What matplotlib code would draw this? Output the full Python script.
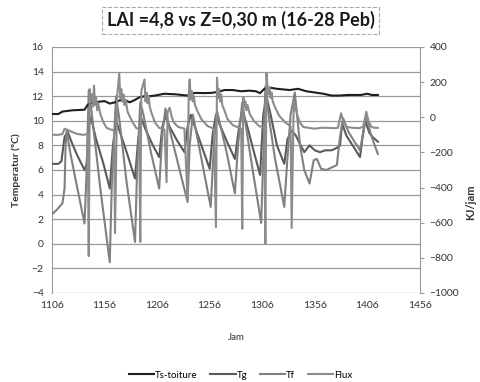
import numpy as np
import matplotlib
matplotlib.use("Agg")
import matplotlib.pyplot as plt

plt.rcParams['font.family'] = ['Lato', 'DejaVu Sans']

# Ts-toiture (left axis)
ts_x = [1106, 1112, 1116, 1125, 1137, 1140, 1143, 1151, 1156, 1161, 1166, 1170, 1175, 1180, 1185, 1189,
        1194, 1199, 1204, 1213, 1224, 1235, 1242, 1250, 1258, 1264, 1270, 1278, 1286, 1294, 1300, 1304,
        1308, 1313, 1320, 1332, 1340, 1348, 1356, 1364, 1372, 1379, 1387, 1394, 1400, 1406, 1410, 1416]
ts_y = [10.55, 10.55, 10.75, 10.85, 10.9, 11.3, 11.45, 11.55, 11.6, 11.4, 11.5, 11.65, 11.7, 11.5, 11.7, 11.9,
        12.0, 12.0, 12.05, 12.2, 12.15, 12.05, 12.27, 12.25, 12.27, 12.35, 12.5, 12.5, 12.4, 12.45, 12.4, 12.25,
        12.6, 12.7, 12.6, 12.5, 12.6, 12.4, 12.3, 12.2, 12.05, 12.05, 12.1, 12.1, 12.1, 12.2, 12.1, 12.1]

# Tg (left axis)
tg_x = [1106, 1112, 1115, 1118, 1121, 1125, 1130, 1137, 1139, 1141, 1143, 1148, 1155, 1161, 1164, 1167,
        1171, 1178, 1185, 1188, 1191, 1195, 1202, 1208, 1211, 1214, 1218, 1225, 1232, 1235, 1238, 1242,
        1249, 1256, 1259, 1262, 1266, 1273, 1280, 1284, 1287, 1291, 1298, 1304, 1307, 1310, 1314, 1320,
        1327, 1330, 1334, 1338, 1342, 1346, 1351, 1356, 1361, 1366, 1372, 1377, 1380, 1382, 1386, 1392,
        1399, 1402, 1404, 1408, 1412, 1416]
tg_y = [6.5, 6.5, 6.7, 8.7, 9.1, 8.2, 7.2, 6.0, 6.5, 9.5, 10.3, 8.5, 6.5, 4.5, 8.0, 10.0,
        9.0, 7.2, 5.3, 8.5, 10.2, 9.3, 8.0, 7.05, 9.5, 10.4, 9.5, 8.4, 7.45, 9.5, 10.5, 9.5,
        7.8, 6.1, 9.0, 10.5, 9.6, 8.2, 6.9, 9.5, 10.8, 9.8, 7.5, 5.6, 10.5, 12.0, 10.5, 8.0,
        6.5, 8.5, 9.2, 8.8, 8.1, 7.45, 8.0, 7.6, 7.45, 7.6, 7.6, 7.8, 8.0, 9.8, 8.8, 8.0,
        7.05, 9.0, 10.0, 9.0, 8.6, 8.3]

# Tf (left axis)
tf_x = [1106, 1111, 1116, 1118, 1119, 1120, 1123, 1129, 1137, 1139, 1141, 1144, 1152, 1161, 1163, 1167,
        1170, 1177, 1185, 1187, 1190, 1193, 1200, 1208, 1211, 1214, 1217, 1226, 1235, 1237, 1240, 1248,
        1257, 1260, 1263, 1272, 1280, 1283, 1287, 1296, 1305, 1307, 1309, 1312, 1318, 1327, 1330, 1333,
        1337, 1342, 1346, 1351, 1355, 1358, 1362, 1367, 1372, 1377, 1380, 1383, 1388, 1393, 1399, 1402,
        1405, 1409, 1413, 1416]
tf_y = [2.4, 2.8, 3.3, 4.5, 8.0, 9.2, 7.6, 5.0, 1.65, 6.0, 12.5, 10.5, 4.5, -1.5, 5.0, 12.0,
        10.2, 5.0, 0.15, 6.0, 11.5, 10.5, 7.5, 4.5, 9.0, 11.0, 9.6, 6.5, 3.4, 8.0, 10.5, 7.0,
        3.0, 8.0, 10.8, 7.5, 4.1, 8.0, 11.5, 6.5, 1.7, 7.0, 12.8, 10.5, 7.0, 3.0, 7.0, 10.5,
        12.3, 8.0, 6.0, 4.9, 6.8, 6.9, 6.1, 6.0, 6.2, 6.4, 8.7, 10.2, 9.1, 8.4, 7.6, 9.0,
        10.5, 9.0, 8.0, 7.3]

# Flux (right axis, KJ/jam)
fl_x = [1106, 1112, 1116, 1118, 1122, 1130, 1136, 1140, 1141, 1142, 1143, 1144, 1145, 1146, 1147, 1148,
        1149, 1150, 1152, 1155, 1158, 1162, 1165, 1166, 1168, 1170, 1171, 1172, 1173, 1174, 1175, 1176,
        1178, 1182, 1186, 1189, 1190, 1191, 1194, 1195, 1196, 1197, 1198, 1199, 1201, 1204, 1208, 1213,
        1215, 1216, 1218, 1220, 1222, 1226, 1232, 1235, 1236, 1237, 1238, 1239, 1240, 1241, 1242, 1244,
        1248, 1254, 1260, 1262, 1263, 1264, 1265, 1266, 1267, 1268, 1270, 1273, 1278, 1284, 1286, 1287,
        1288, 1289, 1290, 1291, 1292, 1294, 1298, 1303, 1308, 1309, 1310, 1311, 1312, 1313, 1314, 1315,
        1316, 1318, 1322, 1328, 1333, 1334, 1336, 1337, 1338, 1339, 1340, 1342, 1345, 1350, 1356, 1362,
        1368, 1374, 1378, 1381, 1383, 1386, 1392, 1398, 1402, 1405, 1407, 1410, 1413, 1416]
fl_y = [-100, -100, -95, -65, -75, -95, -100, -95, -790, 160, 90, 130, 60, 180, 70, 110,
        40, 80, 20, -30, -60, -70, -75, -660, 120, 250, 110, 160, 90, 130, 70, 100,
        30, -20, -60, -70, -710, 150, 215, 90, 140, 80, 120, 60, 20, -30, -60, -70,
        -370, 30, 55, 0, -30, -55, -65, -470, 120, 215, 100, 150, 90, 120, 70, 40,
        -10, -50, -65, -625, 225, 110, 160, 90, 130, 70, 40, -10, -45, -60, -65, -635,
        115, 60, 90, 40, 70, 20, -20, -50, -60, -720, 250, 180, 130, 170, 110, 140,
        90, 60, 10, -30, -50, -630, 95, 40, 60, 20, 0, -30, -55, -60, -65, -60,
        -60, -62, -60, 23, -20, -55, -60, -62, -55, 32, -20, -55, -60, -60]

yl_ticks = np.arange(-4, 17, 2)
yr_ticks = np.arange(-1000, 401, 200)
x_ticks = np.arange(1106, 1457, 50)

fig = plt.figure(figsize=(4.81, 3.82), dpi=100)
ax = fig.add_axes([0.108, 0.233, 0.765, 0.644])
ax2 = ax.twinx()

grid_c = '#9a9a9a'
for v in yl_ticks:
    ax.axhline(v, color=grid_c, lw=0.9, zorder=0)

l1, = ax.plot(ts_x, ts_y, color='#1e1e1e', lw=1.5, zorder=4)
l2, = ax.plot(tg_x, tg_y, color='#5a5a5a', lw=1.5, zorder=3)
l3, = ax.plot(tf_x, tf_y, color='#808080', lw=1.5, zorder=3)
l4, = ax2.plot(fl_x, fl_y, color='#8c8c8c', lw=1.5, zorder=3)

ax.set_xlim(1106, 1456)
ax.set_ylim(-4, 16)
ax.set_yticks(yl_ticks)
ax.set_xticks(x_ticks)
ax2.set_ylim(-1000, 400)
ax2.set_yticks(yr_ticks)

for a in (ax, ax2):
    for s in a.spines.values():
        s.set_visible(False)
ax.spines['left'].set_visible(True)
ax.spines['left'].set_color(grid_c)
ax2.spines['right'].set_visible(True)
ax2.spines['right'].set_color(grid_c)

ax.tick_params(axis='both', length=0, labelsize=7.5, colors='#333333', pad=6)
ax2.tick_params(axis='y', length=3, direction='out', color=grid_c, labelsize=7.5,
                labelcolor='#333333', pad=4)

ax.set_xlabel('Jam', fontsize=7, color='#333333', labelpad=16)
ax.set_ylabel('Temperatur (ºC)', fontsize=7.5, fontweight='bold', color='#333333', labelpad=8)
fig.text(0.978, 0.47, 'KJ/jam', rotation=90, ha='center', va='center',
         fontsize=8, fontweight='bold', color='#333333')

fig.text(0.5, 0.947, 'LAI =4,8 vs Z=0,30 m (16-28 Peb)', ha='center', va='center',
         fontsize=13, fontweight='bold', color='#1a1a1a',
         bbox=dict(boxstyle='square,pad=0.25', fc='none', ec='#aaaaaa', ls='--', lw=0.8))

fig.legend([l1, l2, l3, l4], ['Ts-toiture', 'Tg', 'Tf', 'Flux'], loc='center',
           bbox_to_anchor=(0.5, 0.018), ncol=4, frameon=False, fontsize=7,
           handlelength=2.6, handletextpad=0.1, columnspacing=1.3)

fig.savefig('out.png', dpi=100)
